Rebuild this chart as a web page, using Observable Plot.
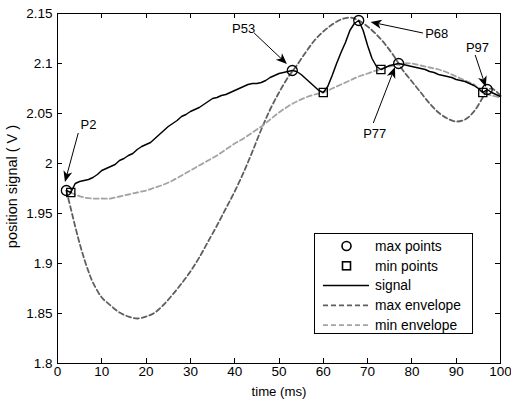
<!DOCTYPE html>
<html>
<head>
<meta charset="utf-8">
<script src="https://cdn.jsdelivr.net/npm/d3@7"></script>
<script src="https://cdn.jsdelivr.net/npm/@observablehq/plot@0.6"></script>
<style>
  html, body { margin: 0; padding: 0; background: #fff; }
  #chart { width: 511px; height: 401px; }
</style>
</head>
<body>
<div id="chart"></div>
<script>
// ---- data ----
const xTicks = [0, 10, 20, 30, 40, 50, 60, 70, 80, 90, 100];
const yTicks = [1.8, 1.85, 1.9, 1.95, 2, 2.05, 2.1, 2.15];

const signalTime = [2,3,4,5,6,7,8,9,10,11,12,13,14,15,16,17,18,19,20,21,22,23,24,25,26,27,28,29,30,31,32,33,34,35,36,37,38,39,40,41,42,43,44,45,46,47,48,49,50,51,52,53,54,55,56,57,58,59,60,61,62,63,64,65,66,67,68,69,70,71,72,73,74,75,76,77,78,79,80,81,82,83,84,85,86,87,88,89,90,91,92,93,94,95,96,97,98,99,100];
const signalValue = [1.973,1.971,1.980,1.982,1.983,1.984,1.986,1.989,1.993,1.995,1.997,1.999,2.003,2.005,2.008,2.010,2.014,2.017,2.019,2.021,2.025,2.029,2.033,2.037,2.040,2.043,2.047,2.049,2.052,2.054,2.056,2.059,2.062,2.065,2.066,2.068,2.069,2.071,2.073,2.075,2.077,2.079,2.080,2.080,2.081,2.083,2.086,2.088,2.090,2.091,2.092,2.093,2.092,2.089,2.085,2.081,2.077,2.073,2.071,2.077,2.088,2.100,2.111,2.121,2.133,2.140,2.143,2.133,2.118,2.105,2.097,2.094,2.096,2.098,2.099,2.100,2.099,2.098,2.097,2.096,2.095,2.094,2.092,2.091,2.089,2.088,2.087,2.086,2.084,2.083,2.082,2.080,2.078,2.075,2.071,2.074,2.071,2.069,2.067];

const maxEnvTime = [2,3,4,5,6,7,8,10,12,14,16,18,20,22,24,26,28,30,32,34,36,38,40,42,44,46,48,50,52,53,54,56,58,60,62,64,66,68,70,72,74,76,77,78,80,82,84,86,88,90,92,94,96,97,98,100];
const maxEnvValue = [1.973,1.955,1.937,1.920,1.905,1.892,1.881,1.866,1.858,1.851,1.847,1.845,1.847,1.851,1.859,1.869,1.880,1.892,1.906,1.922,1.938,1.955,1.972,1.991,2.012,2.034,2.054,2.071,2.086,2.092,2.098,2.111,2.123,2.132,2.139,2.144,2.146,2.143,2.137,2.129,2.119,2.107,2.100,2.093,2.082,2.071,2.060,2.051,2.045,2.042,2.044,2.052,2.066,2.073,2.075,2.068];

const minEnvTime = [3,4,6,8,10,12,14,16,18,20,22,24,26,28,30,32,34,36,38,40,42,44,46,48,50,52,54,56,58,60,62,64,66,68,70,72,73,74,76,78,80,82,84,86,88,90,92,94,95,96,98,100];
const minEnvValue = [1.971,1.969,1.966,1.965,1.965,1.965,1.967,1.969,1.971,1.973,1.976,1.979,1.983,1.988,1.993,1.998,2.003,2.008,2.014,2.020,2.025,2.031,2.037,2.044,2.051,2.057,2.062,2.066,2.069,2.071,2.075,2.079,2.083,2.087,2.090,2.093,2.094,2.096,2.098,2.100,2.100,2.098,2.096,2.094,2.091,2.087,2.083,2.079,2.075,2.071,2.068,2.066];

const maxPointTime = [2, 53, 68, 77, 97];
const maxPointValue = [1.973, 2.093, 2.143, 2.100, 2.074];
const minPointTime = [3, 60, 73, 96];
const minPointValue = [1.971, 2.071, 2.094, 2.071];

const annotationLabel = ["P2", "P53", "P68", "P77", "P97"];
const annotationTextTime = [7.0, 42.0, 85.6, 71.6, 94.8];
const annotationTextValue = [2.039, 2.135, 2.130, 2.030, 2.116];
const arrowTailTime = [4.8, 44.5, 82.6, 71.4, 94.4];
const arrowTailValue = [2.030, 2.130, 2.130, 2.040, 2.108];
const arrowTipTime = [1.8, 51.9, 70.8, 76.3, 96.8];
const arrowTipValue = [1.981, 2.099, 2.141, 2.096, 2.076];

const legendLabels = ["max points", "min points", "signal", "max envelope", "min envelope"];

// ---- tables ----
const signal = signalTime.map((t, i) => ({t, v: signalValue[i]}));
const maxEnv = maxEnvTime.map((t, i) => ({t, v: maxEnvValue[i]}));
const minEnv = minEnvTime.map((t, i) => ({t, v: minEnvValue[i]}));
const maxPts = maxPointTime.map((t, i) => ({t, v: maxPointValue[i]}));
const minPts = minPointTime.map((t, i) => ({t, v: minPointValue[i]}));
const notes = annotationLabel.map((label, i) => ({
  label, t: annotationTextTime[i], v: annotationTextValue[i],
  t1: arrowTailTime[i], v1: arrowTailValue[i], t2: arrowTipTime[i], v2: arrowTipValue[i]
}));

const DARK = "#5f5f5f", LIGHT = "#a3a3a3";
const FONT = "'Liberation Sans', Arial, Helvetica, sans-serif";

// inward ticks on all four sides
function ticksMark(index, scales, values, dim) {
  const g = d3.create("svg:g").attr("stroke", "black").attr("stroke-width", 1);
  const top = dim.marginTop, bottom = dim.height - dim.marginBottom;
  const left = dim.marginLeft, right = dim.width - dim.marginRight;
  const L = 5;
  for (const t of xTicks) {
    const x = Math.round(scales.x(t)) + 0.5;
    g.append("line").attr("x1", x).attr("x2", x).attr("y1", bottom).attr("y2", bottom - L);
    g.append("line").attr("x1", x).attr("x2", x).attr("y1", top).attr("y2", top + L);
  }
  for (const v of yTicks) {
    const y = Math.round(scales.y(v)) + 0.5;
    g.append("line").attr("y1", y).attr("y2", y).attr("x1", left).attr("x2", left + L);
    g.append("line").attr("y1", y).attr("y2", y).attr("x1", right).attr("x2", right - L);
  }
  return g.node();
}

// arrows with filled, notched heads
function arrowsMark(index, scales) {
  const g = d3.create("svg:g");
  for (const a of notes) {
    const x1 = scales.x(a.t1), y1 = scales.y(a.v1);
    const x2 = scales.x(a.t2), y2 = scales.y(a.v2);
    const ang = Math.atan2(y2 - y1, x2 - x1);
    const c = Math.cos(ang), s = Math.sin(ang);
    const L = 11, W = 4.5, N = 8;
    const bx = x2 - L * c, by = y2 - L * s;
    const nx = x2 - N * c, ny = y2 - N * s;
    g.append("line").attr("x1", x1).attr("y1", y1).attr("x2", nx).attr("y2", ny)
      .attr("stroke", "black").attr("stroke-width", 1);
    const pts = [[x2, y2], [bx - W * s, by + W * c], [nx, ny], [bx + W * s, by - W * c]];
    g.append("polygon").attr("points", pts.map(p => p.join(",")).join(" ")).attr("fill", "black");
  }
  return g.node();
}

// legend box
function legendMark(index, scales, values, dim) {
  const g = d3.create("svg:g");
  const bx = 314.5, by = 233.5, bw = 158, bh = 100;
  g.append("rect").attr("x", bx).attr("y", by).attr("width", bw).attr("height", bh)
    .attr("fill", "white").attr("stroke", "black").attr("stroke-width", 1);
  const rowY = i => 246 + i * 19.8;
  const symX = 346.5, lx1 = 323, lx2 = 369, tx = 375;
  g.append("circle").attr("cx", symX).attr("cy", rowY(0)).attr("r", 4.5)
    .attr("fill", "none").attr("stroke", "black").attr("stroke-width", 1.6);
  g.append("rect").attr("x", symX - 4).attr("y", rowY(1) - 4).attr("width", 8).attr("height", 8)
    .attr("fill", "none").attr("stroke", "black").attr("stroke-width", 1.6);
  g.append("line").attr("x1", lx1).attr("x2", lx2).attr("y1", rowY(2)).attr("y2", rowY(2))
    .attr("stroke", "black").attr("stroke-width", 1.5);
  g.append("line").attr("x1", lx1).attr("x2", lx2).attr("y1", rowY(3)).attr("y2", rowY(3))
    .attr("stroke", DARK).attr("stroke-width", 1.8).attr("stroke-dasharray", "5,3");
  g.append("line").attr("x1", lx1).attr("x2", lx2).attr("y1", rowY(4)).attr("y2", rowY(4))
    .attr("stroke", LIGHT).attr("stroke-width", 1.8).attr("stroke-dasharray", "5,3");
  legendLabels.forEach((lab, i) => {
    g.append("text").attr("x", tx).attr("y", rowY(i)).attr("dy", "0.35em")
      .attr("text-anchor", "start").attr("fill", "black").attr("font-size", 13.8).text(lab);
  });
  return g.node();
}

const chart = Plot.plot({
  width: 511,
  height: 401,
  marginLeft: 57,
  marginRight: 11,
  marginTop: 13,
  marginBottom: 38,
  x: {domain: [0, 100]},
  y: {domain: [1.8, 2.15]},
  style: {fontFamily: FONT, fontSize: "13.5px", color: "black", background: "white", overflow: "visible"},
  marks: [
    Plot.axisX({ticks: xTicks, tickSize: 0, tickPadding: 3, label: null, tickFormat: d => String(d)}),
    Plot.axisY({ticks: yTicks, tickSize: 0, tickPadding: 5, label: null, tickFormat: d => String(d)}),
    Plot.text(["position signal ( V )"], {frameAnchor: "left", dx: -45, dy: -2, rotate: -90, textAnchor: "middle", lineAnchor: "middle", fontSize: 14.5}),
    Plot.text(["time (ms)"], {frameAnchor: "bottom", dy: 28, textAnchor: "middle", lineAnchor: "middle", fontSize: 13.2}),
    Plot.line(maxEnv, {x: "t", y: "v", stroke: DARK, strokeWidth: 1.8, strokeDasharray: "5,3", curve: "catmull-rom"}),
    Plot.line(minEnv, {x: "t", y: "v", stroke: LIGHT, strokeWidth: 1.8, strokeDasharray: "5,3", curve: "catmull-rom"}),
    Plot.line(signal, {x: "t", y: "v", stroke: "black", strokeWidth: 1.5}),
    Plot.dot(maxPts, {x: "t", y: "v", r: 5, stroke: "black", strokeWidth: 1.3, fill: "none"}),
    Plot.dot(minPts, {x: "t", y: "v", r: 4.6, symbol: "square", stroke: "black", strokeWidth: 1.3, fill: "none"}),
    Plot.text(notes, {x: "t", y: "v", text: "label", fontSize: 13, textAnchor: "middle", lineAnchor: "middle"}),
    arrowsMark,
    ticksMark,
    Plot.frame({stroke: "black", strokeWidth: 1}),
    legendMark
  ]
});
document.getElementById("chart").appendChild(chart);
</script>
</body>
</html>
